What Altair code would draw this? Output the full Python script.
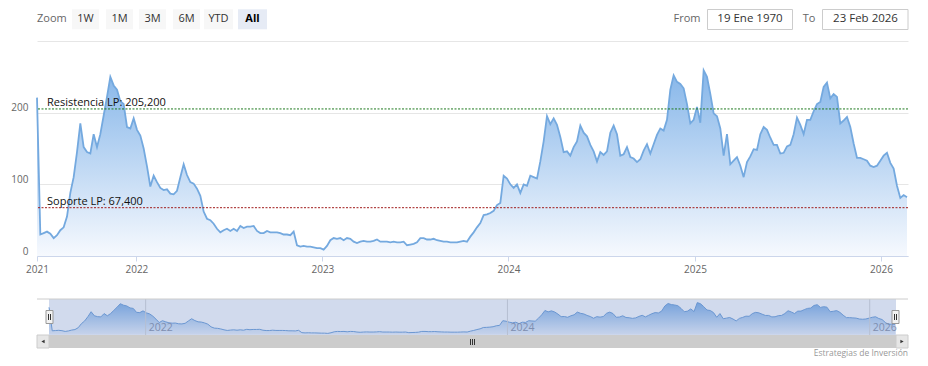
import altair as alt
import pandas as pd

# ---- series values (equal pixel spacing, left to right) ----
precio_2021_22 = [221, 30, 32, 34, 31, 25, 29, 36, 40, 55, 88, 110, 145, 185, 152, 145, 143, 170, 152, 170,
                  196, 222, 250, 238, 232, 216, 212, 180, 178, 192, 176, 168, 150, 125, 97, 112, 103, 95, 92, 93,
                  87, 86, 91, 110, 128, 113, 103, 101, 94, 84, 62, 52]
precio_2022_23 = [50, 45, 38, 33, 36, 38, 35, 38, 35, 42, 39, 41, 41, 42, 35, 32, 32, 35, 33, 33,
                  33, 32, 30, 30, 29, 34, 15, 13, 14, 13, 13, 12, 11, 11, 9, 14, 22, 25, 24, 25,
                  22, 25, 24, 20, 18, 20, 21, 20, 20, 21, 23]
precio_2023_24 = [20, 20, 20, 19, 20, 19, 19, 20, 15, 16, 17, 19, 25, 25, 23, 23, 24, 22, 21, 20,
                  20, 19, 19, 19, 20, 21, 20, 27, 33, 40, 46, 57, 58, 60, 63, 71, 74, 112, 108, 100,
                  95, 100, 88, 100, 98, 112, 110, 108, 132, 160, 195]
precio_2024_25 = [184, 192, 183, 166, 145, 146, 140, 152, 160, 182, 172, 167, 155, 146, 132, 145, 141, 146, 172,
                  182, 170, 140, 142, 152, 138, 136, 131, 135, 147, 156, 143, 156, 169, 178, 175, 190, 232, 252, 243,
                  240, 234, 212, 185, 190, 208, 186, 259, 250, 226, 199, 195, 178, 140, 170]
precio_2025_26 = [128, 133, 138, 126, 110, 131, 139, 149, 148, 170, 180, 176, 165, 155, 155, 143, 144, 153, 155, 170,
                  193, 183, 170, 190, 190, 202, 212, 215, 236, 242, 220, 226, 222, 185, 189, 194, 180, 157, 137, 137,
                  135, 133, 126, 124, 126, 133, 140, 144, 130, 122, 98, 81, 85, 82]
precio = precio_2021_22 + precio_2022_23 + precio_2023_24 + precio_2024_25 + precio_2025_26

fecha_inicio = "2021-06-20"
fecha_fin = "2026-02-21"
fechas = pd.date_range(fecha_inicio, fecha_fin, periods=len(precio))
df = pd.DataFrame({"fecha": fechas, "precio": precio})

niveles = [205.2, 67.4]
niveles_txt = ["Resistencia LP: 205,200", "Soporte LP: 67,400"]
niveles_color = ["#1f7a1f", "#a01c1c"]
df_niv = pd.DataFrame({"nivel": niveles, "etiqueta": niveles_txt, "color": niveles_color})

nav_anios = ["2022-01-01", "2024-01-01", "2026-01-01"]
nav_txt = ["2022", "2024", "2026"]
df_nav = pd.DataFrame({"fecha": pd.to_datetime(nav_anios), "txt": nav_txt})

botones = ["1W", "1M", "3M", "6M", "YTD", "All"]
desde_txt = "19 Ene 1970"
hasta_txt = "23 Feb 2026"
credito = "Estrategias de Inversión"

W, H = 871, 215
x_dom = [alt.DateTime(year=2021, month=6, date=20), alt.DateTime(year=2026, month=2, date=23)]
x_ticks = [alt.DateTime(year=2021, month=6, date=20)] + [alt.DateTime(year=y, month=1, date=1) for y in range(2022, 2027)]

one = pd.DataFrame({"k": [0]})

x_axis = alt.Axis(values=x_ticks, format="%Y", grid=False, domainColor="#ccd6eb", tickColor="#ccd6eb",
                  tickSize=5, labelPadding=3, labelColor="#666666", labelFontSize=10, labelFlush=False,
                  labelAngle=0, title=None, labelOverlap=False)
y_axis = alt.Axis(values=[0, 100, 200, 300], labelExpr="datum.value == 300 ? '' : datum.label",
                  grid=True, gridColor="#e6e6e6", domain=False, ticks=False, labelPadding=9,
                  labelColor="#666666", labelFontSize=10, labelBaseline="alphabetic", labelOffset=-2, title=None)
x_main = alt.X("fecha:T", scale=alt.Scale(domain=x_dom), axis=x_axis)
y_scale = alt.Scale(domain=[0, 300], nice=False)

grad = alt.Gradient(gradient="linear",
                    stops=[alt.GradientStop(color="#86b6e9", offset=0),
                           alt.GradientStop(color="#f6f9fe", offset=1)],
                    x1=0, x2=0, y1=0, y2=1)

area = alt.Chart(df).mark_area(color=grad).encode(x=x_main, y=alt.Y("precio:Q", scale=y_scale, axis=y_axis))
line = alt.Chart(df).mark_line(color="#74a9df", strokeWidth=1.8).encode(
    x=x_main, y=alt.Y("precio:Q", scale=y_scale, axis=y_axis))
rules = alt.Chart(df_niv).mark_rule(strokeDash=[2, 1.5], strokeWidth=1).encode(
    y=alt.Y("nivel:Q", scale=y_scale, axis=y_axis), color=alt.Color("color:N", scale=None))
labels = alt.Chart(df_niv).mark_text(align="left", baseline="alphabetic", dy=-3, fontSize=11, color="#111111").encode(
    x=alt.value(10), y=alt.Y("nivel:Q", scale=y_scale, axis=y_axis), text="etiqueta:N")
main = alt.layer(area, line, rules, labels)

# ---- navigator ----
x_nav = alt.X("fecha:T", scale=alt.Scale(domain=x_dom, range=[12, 859]), axis=None)
y_nav = alt.Y("precio:Q", scale=alt.Scale(domain=[0, 260], range=[293.5, 261.5], nice=False), axis=None)
grad_nav = alt.Gradient(gradient="linear",
                        stops=[alt.GradientStop(color="#7fb0e6", offset=0),
                               alt.GradientStop(color="#f0f5fc", offset=1)],
                        x1=0, x2=0, y1=0, y2=1)
nav_area = alt.Chart(df).mark_area(color=grad_nav).encode(x=x_nav, y=y_nav)
nav_line = alt.Chart(df).mark_line(color="#6d9fd8", strokeWidth=1).encode(x=x_nav, y=y_nav)
nav_grid = alt.Chart(df_nav).mark_rule(color="#d8d8d8", strokeWidth=1).encode(
    x=x_nav, y=alt.value(258), y2=alt.value(294))
nav = alt.layer(nav_area, nav_line, nav_grid)


def rect(x1, x2, y1, y2, fill, stroke=None, opacity=1.0):
    kw = dict(fill=fill, opacity=opacity)
    if stroke:
        kw.update(stroke=stroke, strokeWidth=1)
    return alt.Chart(one).mark_rect(**kw).encode(
        x=alt.value(x1), x2=alt.value(x2), y=alt.value(y1), y2=alt.value(y2))


def hline(x1, x2, y, color):
    return alt.Chart(one).mark_rule(color=color, strokeWidth=1).encode(
        x=alt.value(x1), x2=alt.value(x2), y=alt.value(y))


def vline(x, y1, y2, color):
    return alt.Chart(one).mark_rule(color=color, strokeWidth=1).encode(
        x=alt.value(x), y=alt.value(y1), y2=alt.value(y2))


def text(t, x, y, size=11, color="#333333", align="center", weight="normal"):
    return alt.Chart(one).mark_text(text=t, fontSize=size, color=color, align=align,
                                    baseline="middle", fontWeight=weight).encode(
        x=alt.value(x), y=alt.value(y))


ui = []
# navigator mask, outline, labels, handles
ui.append(rect(12, 859, 258, 294, "#6685c2", opacity=0.3))
ui.append(hline(0, 871, 258, "#cccccc"))
nav_labels = alt.Chart(df_nav).mark_text(align="left", baseline="middle", dx=3, fontSize=10.5, color="#8a93a8").encode(
    x=alt.X("fecha:T", scale=alt.Scale(domain=x_dom, range=[12, 859]), axis=None), y=alt.value(286.5), text="txt:N")
for hx in (12.5, 858.5):
    ui.append(rect(hx - 3.5, hx + 3.5, 269.5, 282.5, "#f2f2f2", stroke="#999999"))
    ui.append(vline(hx - 1, 273, 279, "#333333"))
    ui.append(vline(hx + 1, 273, 279, "#333333"))
# scrollbar
ui.append(rect(0, 871, 294, 307, "#f2f2f2"))
ui.append(rect(12, 859, 294, 307, "#cccccc"))
ui.append(rect(0, 12, 294, 307, "#e6e6e6", stroke="#cccccc"))
ui.append(rect(859, 871, 294, 307, "#e6e6e6", stroke="#cccccc"))
ui.append(alt.Chart(one).mark_point(shape="triangle-left", filled=True, size=14, color="#333333", opacity=1).encode(
    x=alt.value(6), y=alt.value(300.5)))
ui.append(alt.Chart(one).mark_point(shape="triangle-right", filled=True, size=14, color="#333333", opacity=1).encode(
    x=alt.value(865), y=alt.value(300.5)))
for gx in (433.5, 435.5, 437.5):
    ui.append(vline(gx, 298, 304, "#333333"))
# credit
ui.append(text(credito, 871, 312, size=8.5, color="#999999", align="right"))
# range selector
ui.append(text("Zoom", 0, -21.7, size=11, color="#666666", align="left"))
b_x1 = [35, 69, 102, 136, 167, 201]
b_x2 = [62, 96, 129, 163, 196, 230]
for i, b in enumerate(botones):
    sel = b == "All"
    ui.append(rect(b_x1[i], b_x2[i], -31.7, -11.7, "#e6ebf5" if sel else "#f7f7f7"))
    ui.append(text(b, (b_x1[i] + b_x2[i]) / 2, -21.7, size=11, color="#000000" if sel else "#333333",
                   weight="bold" if sel else "normal"))
ui.append(text("From", 650, -21.7, size=11, color="#666666"))
ui.append(rect(670.5, 755.5, -31.5, -11.5, "#ffffff", stroke="#cccccc"))
ui.append(text(desde_txt, 713, -21.7, size=11.5, color="#333333"))
ui.append(text("To", 772, -21.7, size=11, color="#666666"))
ui.append(rect(785.5, 871, -31.5, -11.5, "#ffffff", stroke="#cccccc"))
ui.append(text(hasta_txt, 828.5, -21.7, size=11.5, color="#333333"))

chart = alt.layer(main, nav, nav_labels, *ui).resolve_scale(
    x="independent", y="independent"
).properties(
    width=W, height=H,
    autosize=alt.AutoSizeParams(type="none"),
    padding={"left": 29, "top": 33, "right": 12, "bottom": 102},
).configure(font="Open Sans").configure_view(stroke=None)

chart.save("out.html", embed_options={"renderer": "svg", "actions": False})
